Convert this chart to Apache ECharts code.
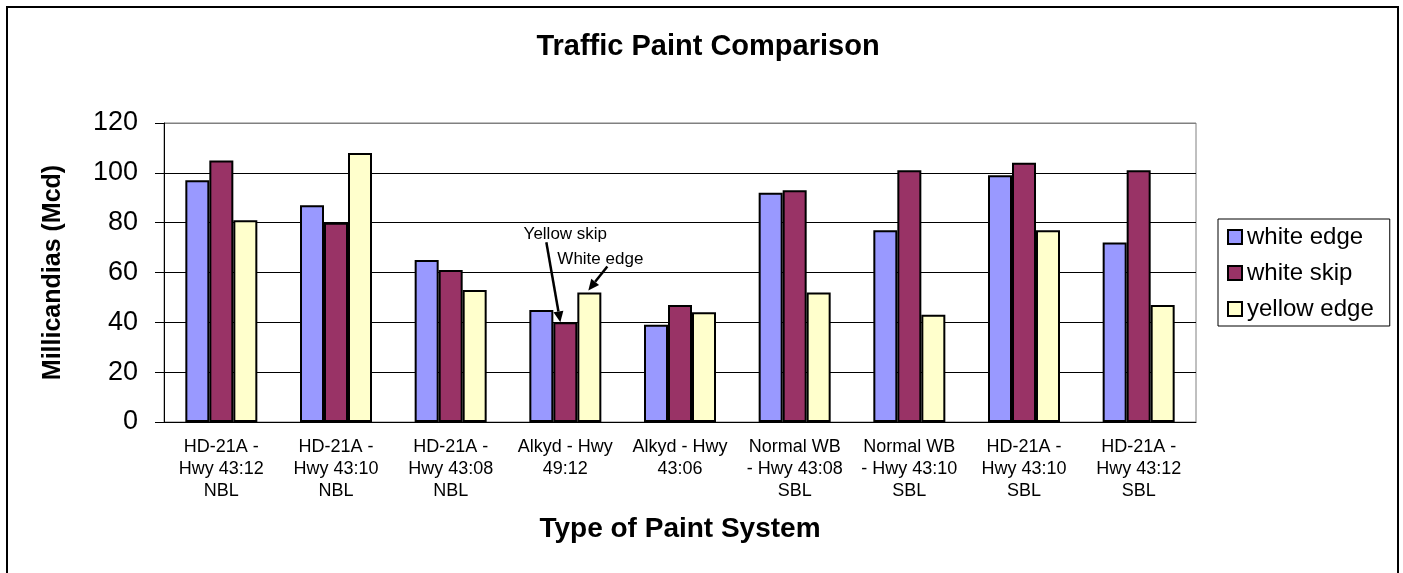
<!DOCTYPE html>
<html>
<head>
<meta charset="utf-8">
<script src="https://cdn.jsdelivr.net/npm/echarts@6/dist/echarts.min.js"></script>
<style>
    html, body { margin: 0; padding: 0; background: #fff; }
    #paint_chart { width: 1403px; height: 573px; }
</style>
</head>
<body>
<div id="paint_chart"></div>
<script>
var categories = [
    'HD-21A -\nHwy 43:12\nNBL',
    'HD-21A -\nHwy 43:10\nNBL',
    'HD-21A -\nHwy 43:08\nNBL',
    'Alkyd - Hwy\n49:12',
    'Alkyd - Hwy\n43:06',
    'Normal WB\n- Hwy 43:08\nSBL',
    'Normal WB\n- Hwy 43:10\nSBL',
    'HD-21A -\nHwy 43:10\nSBL',
    'HD-21A -\nHwy 43:12\nSBL'
];
var whiteEdge = [97, 87, 65, 45, 39, 92, 77, 99, 72];
var whiteSkip = [105, 80, 61, 40, 47, 93, 101, 104, 101];
var yellowEdge = [81, 108, 53, 52, 44, 52, 43, 77, 47];

var FONT = "'Liberation Sans', Arial, sans-serif";

var paint_chart = echarts.init(document.getElementById('paint_chart'));

function barSeries(name, data, color) {
    return {
        name: name,
        type: 'bar',
        data: data,
        barWidth: 24,
        barGap: '0%',
        itemStyle: { color: color, borderColor: '#000', borderWidth: 2 }
    };
}

var paint_option = {
    animation: false,
    textStyle: { fontFamily: FONT },
    title: {
        text: 'Traffic Paint Comparison',
        left: 703,
        textAlign: 'center',
        top: 27,
        textStyle: { fontFamily: FONT, fontSize: 29, fontWeight: 'bold', color: '#000' }
    },
    legend: {
        orient: 'vertical',
        left: 1218,
        top: 219,
        icon: 'rect',
        itemWidth: 14,
        itemHeight: 14,
        itemGap: 12,
        padding: [6, 16, 5, 9],
        borderColor: '#000',
        borderWidth: 1,
        borderRadius: 0,
        textStyle: { fontFamily: FONT, fontSize: 24, lineHeight: 24, color: '#000' },
        data: ['white edge', 'white skip', 'yellow edge']
    },
    grid: {
        left: 164,
        right: 207,
        top: 123,
        bottom: 151,
        show: true,
        borderColor: '#808080',
        borderWidth: 1
    },
    xAxis: {
        type: 'category',
        data: categories,
        name: 'Type of Paint System',
        nameLocation: 'middle',
        nameGap: 93,
        nameTextStyle: { fontFamily: FONT, fontSize: 28, fontWeight: 'bold', color: '#000' },
        axisLine: { lineStyle: { color: '#000', width: 1 } },
        axisTick: { length: 7, lineStyle: { color: '#000' } },
        axisLabel: {
            interval: 0,
            margin: 14,
            fontFamily: FONT,
            fontSize: 18,
            lineHeight: 22,
            color: '#000'
        }
    },
    yAxis: {
        type: 'value',
        min: 0,
        max: 120,
        interval: 20,
        name: 'Millicandias (Mcd)',
        nameLocation: 'middle',
        nameGap: 98,
        nameTextStyle: { fontFamily: FONT, fontSize: 25, fontWeight: 'bold', color: '#000' },
        axisLine: { show: true, lineStyle: { color: '#000', width: 1 } },
        axisTick: { show: true, length: 9, lineStyle: { color: '#000' } },
        axisLabel: { fontFamily: FONT, fontSize: 27, margin: 26, color: '#000' },
        splitLine: {
            lineStyle: { color: ['#000', '#000', '#000', '#000', '#000', '#000', '#808080'], width: 1 }
        }
    },
    series: [
        barSeries('white edge', whiteEdge, '#9999FF'),
        barSeries('white skip', whiteSkip, '#993366'),
        barSeries('yellow edge', yellowEdge, '#FFFFCC')
    ]
};

paint_chart.setOption(paint_option);

// arrow = line + little triangle at the tip
function arrow(from, to) {
    var dx = to[0] - from[0];
    var dy = to[1] - from[1];
    var len = Math.sqrt(dx * dx + dy * dy);
    var ux = dx / len, uy = dy / len;
    var hl = 11, hw = 5;
    var bx = to[0] - ux * hl, by = to[1] - uy * hl;
    return [
        {
            type: 'line',
            shape: { x1: from[0], y1: from[1], x2: bx, y2: by },
            style: { stroke: '#000', lineWidth: 2.5 }
        },
        {
            type: 'polygon',
            shape: { points: [to, [bx - uy * hw, by + ux * hw], [bx + uy * hw, by - ux * hw]] },
            style: { fill: '#000' }
        }
    ];
}

// annotations on the Alkyd - Hwy 49:12 group
var idx = 3;
var pSkip = paint_chart.convertToPixel({ gridIndex: 0 }, [idx, whiteSkip[idx]]);
var pYellow = paint_chart.convertToPixel({ gridIndex: 0 }, [idx, yellowEdge[idx]]);
var tipSkip = [pSkip[0] - 5, pSkip[1]];
var tipYellow = [pYellow[0] + 23, pYellow[1] - 2];

var graphics = [
    {
        type: 'rect',
        shape: { x: 7, y: 7, width: 1391, height: 620 },
        style: { fill: 'none', stroke: '#000', lineWidth: 2 },
        silent: true
    },
    {
        type: 'text',
        x: tipSkip[0] + 5,
        y: tipSkip[1] - 88,
        style: { text: 'Yellow skip', font: '17px ' + FONT, fill: '#000', align: 'center', verticalAlign: 'middle' }
    },
    {
        type: 'text',
        x: tipYellow[0] + 12,
        y: tipYellow[1] - 31,
        style: { text: 'White edge', font: '17px ' + FONT, fill: '#000', align: 'center', verticalAlign: 'middle' }
    }
];
graphics = graphics
    .concat(arrow([tipSkip[0] - 14, tipSkip[1] - 80], tipSkip))
    .concat(arrow([tipYellow[0] + 19, tipYellow[1] - 24], tipYellow));

paint_chart.setOption({ graphic: graphics });
</script>
</body>
</html>
